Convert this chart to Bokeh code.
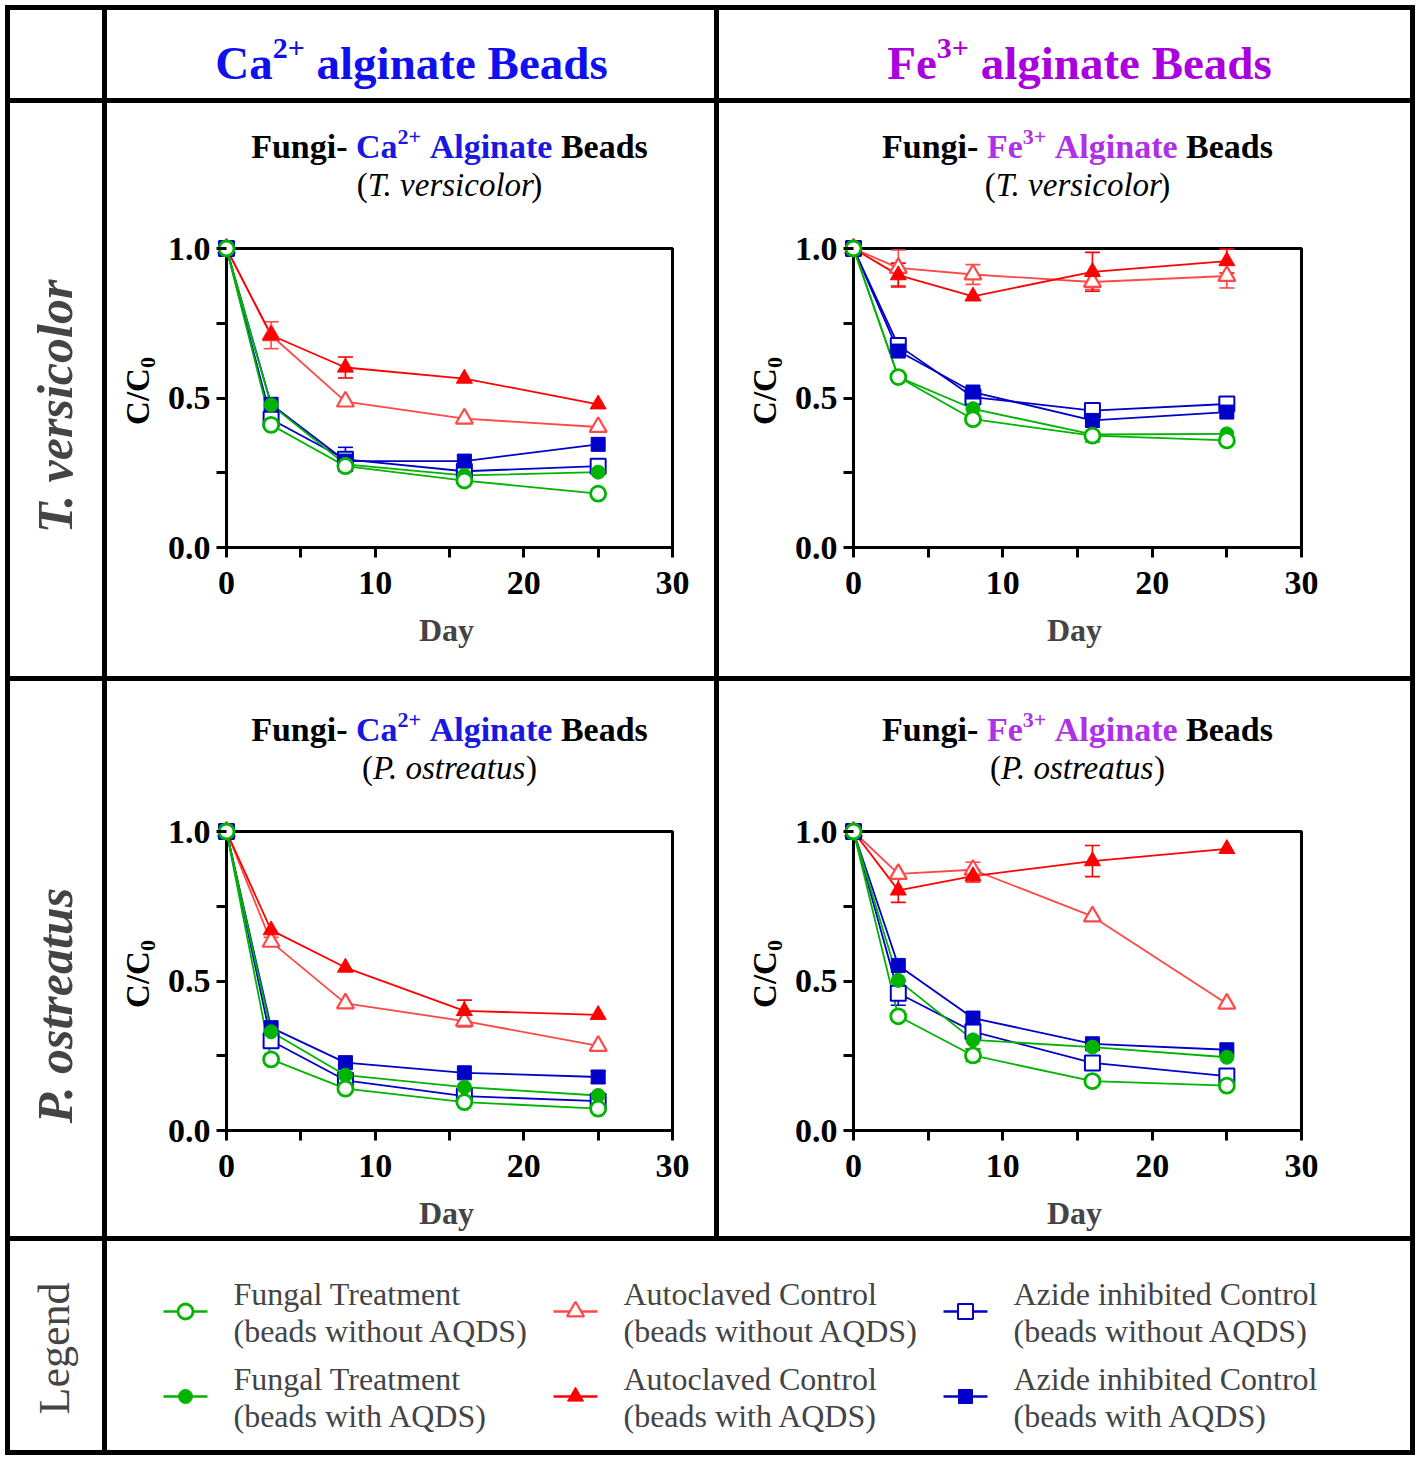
import math
from bokeh.plotting import figure
from bokeh.layouts import row, column
from bokeh.models import (Range1d, Label, FixedTicker, PrintfTickFormatter, BoxAnnotation,
                          Whisker, TeeHead, ColumnDataSource, Div, Spacer)
from bokeh.embed import file_html
from bokeh.resources import INLINE

# ---------------- data ----------------
days = [0, 3, 8, 16, 25]
x_ticks = [0, 10, 20, 30]
x_minor = [5, 15, 25]
y_ticks = [0.0, 0.5, 1.0]
y_minor = [0.25, 0.75]

# Ca2+ alginate beads, T. versicolor
ca_tv_fungal_wo = [1.0, 0.410, 0.272, 0.224, 0.180]
ca_tv_fungal_w = [1.0, 0.477, 0.278, 0.241, 0.252]
ca_tv_auto_wo = [1.0, 0.710, 0.488, 0.431, 0.403]
ca_tv_auto_w = [1.0, 0.710, 0.602, 0.565, 0.479]
ca_tv_azide_wo = [1.0, 0.429, 0.295, 0.255, 0.272]
ca_tv_azide_w = [1.0, 0.479, 0.289, 0.289, 0.345]
ca_tv_fungal_wo_err = [0, 0, 0, 0, 0]
ca_tv_fungal_w_err = [0, 0, 0, 0, 0]
ca_tv_auto_wo_err = [0, 0.045, 0, 0, 0]
ca_tv_auto_w_err = [0, 0, 0.035, 0, 0]
ca_tv_azide_wo_err = [0, 0, 0.040, 0, 0]
ca_tv_azide_w_err = [0, 0, 0, 0.018, 0]

# Fe3+ alginate beads, T. versicolor
fe_tv_fungal_wo = [1.0, 0.570, 0.429, 0.374, 0.358]
fe_tv_fungal_w = [1.0, 0.570, 0.464, 0.378, 0.380]
fe_tv_auto_wo = [1.0, 0.935, 0.913, 0.888, 0.908]
fe_tv_auto_w = [1.0, 0.911, 0.840, 0.922, 0.958]
fe_tv_azide_wo = [1.0, 0.676, 0.503, 0.458, 0.480]
fe_tv_azide_w = [1.0, 0.657, 0.520, 0.425, 0.453]
fe_tv_fungal_wo_err = [0, 0, 0, 0, 0]
fe_tv_fungal_w_err = [0, 0, 0, 0.025, 0]
fe_tv_auto_wo_err = [0, 0.060, 0.033, 0.025, 0.040]
fe_tv_auto_w_err = [0, 0.040, 0, 0.065, 0.040]
fe_tv_azide_wo_err = [0, 0, 0, 0, 0]
fe_tv_azide_w_err = [0, 0, 0, 0, 0]

# Ca2+ alginate beads, P. ostreatus
ca_po_fungal_wo = [1.0, 0.238, 0.140, 0.095, 0.073]
ca_po_fungal_w = [1.0, 0.330, 0.185, 0.145, 0.117]
ca_po_auto_wo = [1.0, 0.631, 0.425, 0.366, 0.283]
ca_po_auto_w = [1.0, 0.670, 0.545, 0.400, 0.387]
ca_po_azide_wo = [1.0, 0.300, 0.168, 0.115, 0.098]
ca_po_azide_w = [1.0, 0.344, 0.227, 0.193, 0.179]
ca_po_fungal_wo_err = [0, 0, 0, 0, 0]
ca_po_fungal_w_err = [0, 0, 0, 0, 0]
ca_po_auto_wo_err = [0, 0.015, 0, 0.020, 0]
ca_po_auto_w_err = [0, 0, 0, 0.036, 0]
ca_po_azide_wo_err = [0, 0, 0, 0, 0]
ca_po_azide_w_err = [0, 0, 0, 0, 0.020]

# Fe3+ alginate beads, P. ostreatus
fe_po_fungal_wo = [1.0, 0.382, 0.251, 0.165, 0.150]
fe_po_fungal_w = [1.0, 0.502, 0.303, 0.279, 0.245]
fe_po_auto_wo = [1.0, 0.858, 0.872, 0.716, 0.424]
fe_po_auto_w = [1.0, 0.803, 0.851, 0.901, 0.942]
fe_po_azide_wo = [1.0, 0.459, 0.331, 0.226, 0.182]
fe_po_azide_w = [1.0, 0.552, 0.376, 0.290, 0.270]
fe_po_fungal_wo_err = [0, 0, 0.020, 0, 0]
fe_po_fungal_w_err = [0, 0, 0.030, 0, 0]
fe_po_auto_wo_err = [0, 0, 0.025, 0, 0]
fe_po_auto_w_err = [0, 0.040, 0.020, 0.052, 0]
fe_po_azide_wo_err = [0, 0.040, 0.020, 0, 0]
fe_po_azide_w_err = [0, 0, 0, 0, 0]

legend_titles = ["Fungal Treatment", "Fungal Treatment", "Autoclaved Control",
                 "Autoclaved Control", "Azide inhibited Control", "Azide inhibited Control"]
legend_subs = ["(beads without AQDS)", "(beads with AQDS)", "(beads without AQDS)",
               "(beads with AQDS)", "(beads without AQDS)", "(beads with AQDS)"]

# ---------------- styles ----------------
FONT = "Liberation Serif"
GREEN = "#00B400"
RED = "#FF0000"
RED_L = "#FF4848"
BLUE = "#0000C8"
HDR_BLUE = "#1010EE"
HDR_PURPLE = "#AA00DD"
TTL_BLUE = "#1818E0"
TTL_PURPLE = "#B030E8"

STYLE = {
    "auto_wo": dict(marker="triangle", color=RED_L, fill="white", size=17, lw=2.2),
    "auto_w": dict(marker="triangle", color=RED, fill=RED, size=16, lw=1),
    "azide_wo": dict(marker="square", color=BLUE, fill="white", size=15, lw=2),
    "azide_w": dict(marker="square", color=BLUE, fill=BLUE, size=14, lw=1),
    "fungal_w": dict(marker="circle", color=GREEN, fill=GREEN, size=14, lw=1),
    "fungal_wo": dict(marker="circle", color=GREEN, fill="white", size=15, lw=2.8),
}
ORDER = ["auto_wo", "auto_w", "azide_wo", "azide_w", "fungal_w", "fungal_wo"]
LEGEND_KEYS = ["fungal_wo", "fungal_w", "auto_wo", "auto_w", "azide_wo", "azide_w"]

# Times metrics (per 1000 em) for placing mixed-style text pieces
BOLD_W = {' ': 250, '(': 333, ')': 333, '+': 570, '-': 333, '.': 250, '/': 278,
          'A': 722, 'B': 667, 'C': 722, 'D': 722, 'F': 611, 'T': 667, 'P': 611,
          'a': 500, 'b': 556, 'c': 444, 'd': 556, 'e': 444, 'f': 333, 'g': 500, 'h': 556,
          'i': 278, 'l': 278, 'm': 833, 'n': 556, 'o': 500, 'r': 444, 's': 389, 't': 333,
          'u': 556, 'y': 500}
REG_W = {' ': 250, '(': 333, ')': 333, '.': 250}
ITAL_W = {' ': 250, '.': 250, 'T': 556, 'P': 611, 'a': 500, 'c': 444, 'e': 444, 'i': 278,
          'l': 278, 'o': 500, 'r': 389, 's': 389, 't': 278, 'u': 500, 'v': 444}
TABLES = {"bold": BOLD_W, "normal": REG_W, "italic": ITAL_W}
SCALE = {"bold": 1.0, "normal": 1.0, "italic": 0.97}
MID = 0.34  # distance from alphabetic baseline up to the 'middle' anchor, in em


def text_width(s, style, size):
    t = TABLES[style]
    return SCALE[style] * sum(t.get(ch, 500) for ch in s) / 1000.0 * size


def rich(p, x, y, segs, angle=0.0, xo0=0.0, yo0=0.0):
    """segs: (text, style, size, color, baseline_shift_px); (x, y) is the baseline centre."""
    items = []
    for (t, st, sz, c, sh) in segs:
        core = t.strip(" ")
        lead = len(t) - len(t.lstrip(" "))
        trail = len(t) - len(t.rstrip(" "))
        items.append((core, st, sz, c, sh, text_width(" " * lead, st, sz),
                      text_width(core, st, sz), text_width(" " * trail, st, sz)))
    pos = -sum(a + b + d for (*_, a, b, d) in items) / 2.0
    for (t, st, sz, c, sh, lw, w, tw) in items:
        pos += lw
        up = sh + MID * sz
        if angle == 0:
            xo, yo = xo0 + pos, yo0 + up
        else:
            xo, yo = xo0 - up, yo0 + pos
        p.add_layout(Label(x=x, y=y, x_offset=xo, y_offset=yo, text=t, text_font=FONT,
                           text_font_style=st, text_font_size=f"{sz}px", text_color=c,
                           text_align="left", text_baseline="middle", angle=angle))
        pos += w + tw


def blank(w, h, color="white", x_range=None, ml=0, mr=0):
    p = figure(width=w, height=h, toolbar_location=None, output_backend="svg",
               x_range=x_range if x_range is not None else Range1d(0, w),
               y_range=Range1d(h, 0), title_location=None,
               x_axis_location=None, y_axis_location=None, min_border=0,
               min_border_left=ml, min_border_right=mr)
    p.outline_line_color = None
    p.background_fill_color = color
    p.border_fill_color = color
    p.grid.visible = False
    return p


def bar(w, h):
    return Div(text="", width=w, height=h, margin=(0, 0, 0, 0),
               styles={"background-color": "black"},
               stylesheets=[":host { background-color: black; }"])


def style_axis(ax, t_in, t_out):
    ax.axis_line_color = None
    ax.major_tick_in = t_in
    ax.major_tick_out = t_out
    ax.minor_tick_in = t_in
    ax.minor_tick_out = t_out
    ax.major_tick_line_width = 3
    ax.minor_tick_line_width = 3
    ax.major_tick_line_color = "black"
    ax.minor_tick_line_color = "black"
    ax.major_label_text_font = FONT
    ax.major_label_text_font_style = "bold"
    ax.major_label_text_font_size = "34px"
    ax.major_label_text_color = "black"


def make_cell(cell_w, cell_h, box_l, box_t, box_w, box_h, data, title_segs, sub_segs):
    pl, pr, pt, pb = 10, 4, 24, 2
    yl_w = box_l - 66
    fl, fw = box_l - pl, box_w + pl + pr
    ft, fh = box_t - pt, box_h + pt + pb
    xr = Range1d(-pl / box_w * 30, 30 + pr / box_w * 30)
    yr = Range1d(-pb / box_h, 1 + pt / box_h)
    mb_l, mb_r = fl - yl_w, cell_w - fl - fw

    # y-axis title column
    ylab = blank(yl_w, cell_h)
    rich(ylab, box_l - 77, box_t + box_h / 2 - 7,
         [("C/C", "bold", 33, "black", 0), ("0", "bold", 22, "black", -6)], angle=math.pi / 2)

    # title block, sharing the plot's x scale so that titles centre on the axes box
    tfig = blank(cell_w - yl_w, ft, x_range=xr, ml=mb_l, mr=mb_r)
    rich(tfig, 15, box_t - 90, title_segs)
    rich(tfig, 15, box_t - 52, sub_segs)

    p = figure(width=cell_w - yl_w, height=cell_h - ft, x_range=xr, y_range=yr,
               toolbar_location=None, output_backend="svg", title_location=None,
               min_border_left=mb_l, min_border_right=mb_r,
               min_border_top=0, min_border_bottom=cell_h - ft - fh)
    p.outline_line_color = None
    p.grid.visible = False
    p.background_fill_color = "white"
    p.border_fill_color = "white"

    xa = p.xaxis[0]
    xa.ticker = FixedTicker(ticks=x_ticks, minor_ticks=x_minor)
    style_axis(xa, pb, 10 - pb)
    xa.major_label_standoff = 14
    xa.axis_label = "Day"
    xa.axis_label_text_font = FONT
    xa.axis_label_text_font_style = "bold"
    xa.axis_label_text_font_size = "32px"
    xa.axis_label_standoff = 15

    ya = p.yaxis[0]
    ya.ticker = FixedTicker(ticks=y_ticks, minor_ticks=y_minor)
    ya.formatter = PrintfTickFormatter(format="%.1f")
    style_axis(ya, pl, 0)
    ya.major_label_standoff = 6

    p.add_layout(BoxAnnotation(left=0, right=30, bottom=0, top=1, fill_color=None, fill_alpha=0,
                               line_color="black", line_alpha=1.0, line_width=3, level="underlay"))

    for key in ORDER:
        vals, errs = data[key]
        st = STYLE[key]
        xs = [d for d, e in zip(days, errs) if e > 0]
        if xs:
            up = [v + e for v, e in zip(vals, errs) if e > 0]
            lo = [v - e for v, e in zip(vals, errs) if e > 0]
            src = ColumnDataSource(dict(x=xs, upper=up, lower=lo))
            p.add_layout(Whisker(base="x", upper="upper", lower="lower", source=src,
                                 dimension="height", line_color=st["color"], line_width=1.6,
                                 upper_head=TeeHead(size=15, line_color=st["color"], line_width=1.6),
                                 lower_head=TeeHead(size=15, line_color=st["color"], line_width=1.6)))
        p.line(days, vals, line_color=st["color"], line_width=1.8)
    for key in ORDER:
        vals, errs = data[key]
        st = STYLE[key]
        p.scatter(days, vals, marker=st["marker"], size=st["size"], fill_color=st["fill"],
                  line_color=st["color"], line_width=st["lw"])

    return row(ylab, column(tfig, p))


def title(ion, sup, col):
    S = 34
    return [("Fungi- ", "bold", S, "black", 0), (ion, "bold", S, col, 0),
            (sup, "bold", 22, col, 14), (" Alginate", "bold", S, col, 0),
            (" Beads", "bold", S, "black", 0)]


def subtitle(species):
    S = 33
    return [("(", "normal", S, "black", 0), (species, "italic", S, "black", 0),
            (")", "normal", S, "black", 0)]


def pack(prefix):
    g = globals()
    return {k: (g[f"{prefix}_{k}"], g[f"{prefix}_{k}_err"]) for k in ORDER}


# ---------------- layout ----------------
OFF = 5
LW = 5
LAB_W, COL_A, COL_B = 92, 607, 691
HDR_H, R1_H, R2_H, LEG_H = 88, 573, 555, 209
TOTAL_W = LW * 4 + LAB_W + COL_A + COL_B

# headers
hdr_corner = blank(LAB_W, HDR_H)
hdr_a = blank(COL_A, HDR_H)
rich(hdr_a, 304, 68, [("Ca", "bold", 47, HDR_BLUE, 0), ("2+", "bold", 30, HDR_BLUE, 20),
                      (" alginate Beads", "bold", 47, HDR_BLUE, 0)])
hdr_b = blank(COL_B, HDR_H)
rich(hdr_b, 360, 68, [("Fe", "bold", 47, HDR_PURPLE, 0), ("3+", "bold", 30, HDR_PURPLE, 20),
                      (" alginate Beads", "bold", 47, HDR_PURPLE, 0)])

# row labels
lab1 = blank(LAB_W, R1_H)
lab1.add_layout(Label(x=44, y=303, text="T. versicolor", text_font=FONT,
                      text_font_style="bold italic", text_font_size="50px",
                      text_align="center", text_baseline="middle", angle=math.pi / 2))
lab2 = blank(LAB_W, R2_H)
lab2.add_layout(Label(x=44, y=324, text="P. ostreatus", text_font=FONT,
                      text_font_style="bold italic", text_font_size="50px",
                      text_align="center", text_baseline="middle", angle=math.pi / 2))

c_tl = make_cell(COL_A, R1_H, 119, 145, 446, 299, pack("ca_tv"),
                 title("Ca", "2+", TTL_BLUE), subtitle("T. versicolor"))
c_tr = make_cell(COL_B, R1_H, 134, 145, 448, 299, pack("fe_tv"),
                 title("Fe", "3+", TTL_PURPLE), subtitle("T. versicolor"))
c_bl = make_cell(COL_A, R2_H, 119, 150, 446, 299, pack("ca_po"),
                 title("Ca", "2+", TTL_BLUE), subtitle("P. ostreatus"))
c_br = make_cell(COL_B, R2_H, 134, 150, 448, 299, pack("fe_po"),
                 title("Fe", "3+", TTL_PURPLE), subtitle("P. ostreatus"))

# legend
leg_lab = blank(LAB_W, LEG_H)
leg_lab.add_layout(Label(x=44, y=107, text="Legend", text_font=FONT,
                         text_font_size="44px", text_align="center",
                         text_baseline="middle", angle=math.pi / 2))
LEG_W = COL_A + LW + COL_B
leg = blank(LEG_W, LEG_H)
sym_x = [78, 468, 858]
txt_x = [126, 516, 906]
sym_y = [70, 155]
line1_y = [52, 137]
line2_y = [89, 174]
for i, key in enumerate(LEGEND_KEYS):
    c, r = i // 2, i % 2
    st = STYLE[key]
    leg.line([sym_x[c] - 22, sym_x[c] + 22], [sym_y[r], sym_y[r]], line_color=st["color"], line_width=2.5)
    leg.scatter([sym_x[c]], [sym_y[r]], marker=st["marker"], size=st["size"], fill_color=st["fill"],
                line_color=st["color"], line_width=st["lw"])
    leg.add_layout(Label(x=txt_x[c], y=line1_y[r], text=legend_titles[i], text_font=FONT,
                         text_font_size="32px", text_align="left", text_baseline="middle"))
    leg.add_layout(Label(x=txt_x[c], y=line2_y[r], text=legend_subs[i], text_font=FONT,
                         text_font_size="32px", text_align="left", text_baseline="middle"))

table = column(
    bar(TOTAL_W, LW),
    row(bar(LW, HDR_H), hdr_corner, bar(LW, HDR_H), hdr_a, bar(LW, HDR_H), hdr_b, bar(LW, HDR_H)),
    bar(TOTAL_W, LW),
    row(bar(LW, R1_H), lab1, bar(LW, R1_H), c_tl, bar(LW, R1_H), c_tr, bar(LW, R1_H)),
    bar(TOTAL_W, LW),
    row(bar(LW, R2_H), lab2, bar(LW, R2_H), c_bl, bar(LW, R2_H), c_br, bar(LW, R2_H)),
    bar(TOTAL_W, LW),
    row(bar(LW, LEG_H), leg_lab, bar(LW, LEG_H), leg, bar(LW, LEG_H)),
    bar(TOTAL_W, LW),
)
layout = column(Spacer(width=TOTAL_W + OFF, height=OFF), row(Spacer(width=OFF, height=10), table))

open("out.html", "w").write(file_html(layout, INLINE, "Fungi alginate beads"))
